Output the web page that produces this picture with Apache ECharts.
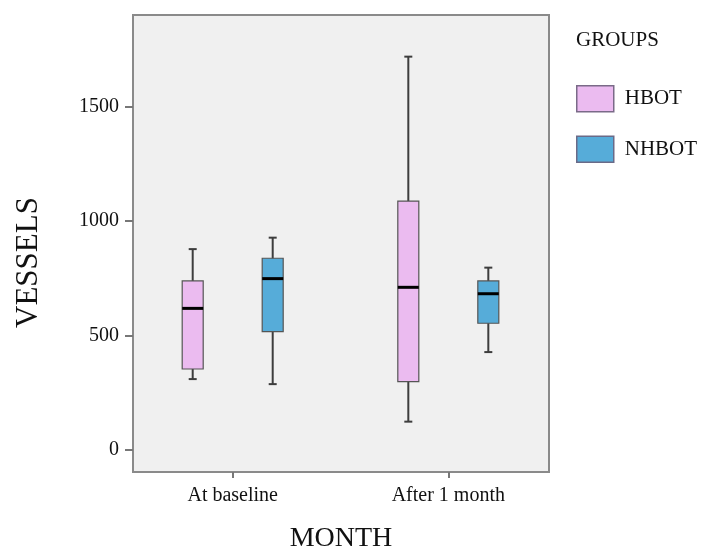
<!DOCTYPE html>
<html>
<head>
<meta charset="utf-8">
<script src="https://cdn.jsdelivr.net/npm/echarts@6/dist/echarts.min.js"></script>
<style>
  html, body { margin: 0; padding: 0; background: #fff; }
  #chart { width: 705px; height: 551px; }
</style>
</head>
<body>
<div id="chart"></div>
<script>
(function() {
  var categories = ['At baseline', 'After 1 month'];
  var groups = ['HBOT', 'NHBOT'];
  // [min, Q1, median, Q3, max] per category
  var hbot = [
    [310, 354, 619, 739, 878],
    [124, 299, 711, 1088, 1719]
  ];
  var nhbot = [
    [288, 517, 749, 838, 928],
    [428, 554, 683, 739, 797]
  ];
  var yTicks = [0, 500, 1000, 1500];

  var pink = '#ebbbf0';
  var blue = '#56acd9';
  var serif = '"Liberation Serif", "DejaVu Serif", serif';

  function toRows(arr) {
    return arr.map(function(v, i) { return [i].concat(v); });
  }

  function boxRenderer(offset) {
    return function(params, api) {
      var x = api.coord([api.value(0), 0])[0] + offset;
      var yMin = api.coord([0, api.value(1)])[1];
      var yQ1 = api.coord([0, api.value(2)])[1];
      var yMed = api.coord([0, api.value(3)])[1];
      var yQ3 = api.coord([0, api.value(4)])[1];
      var yMax = api.coord([0, api.value(5)])[1];
      var half = 10.5, cap = 4;
      var line = { stroke: '#3d3d3d', lineWidth: 2 };
      return {
        type: 'group',
        children: [
          { type: 'line', shape: { x1: x, y1: yMax, x2: x, y2: yMin }, style: line },
          { type: 'line', shape: { x1: x - cap, y1: yMax, x2: x + cap, y2: yMax }, style: line },
          { type: 'line', shape: { x1: x - cap, y1: yMin, x2: x + cap, y2: yMin }, style: line },
          {
            type: 'rect',
            shape: { x: x - half, y: yQ3, width: half * 2, height: yQ1 - yQ3 },
            style: { fill: api.visual('color'), stroke: '#555', lineWidth: 1.2 }
          },
          { type: 'line', shape: { x1: x - half, y1: yMed, x2: x + half, y2: yMed }, style: { stroke: '#000', lineWidth: 3 } }
        ]
      };
    };
  }

  var chart = echarts.init(document.getElementById('chart'), null, { renderer: 'canvas' });
  chart.setOption({
    animation: false,
    backgroundColor: '#fff',
    title: {
      text: 'GROUPS',
      left: 571,
      top: 25,
      textStyle: { fontFamily: serif, fontSize: 21, fontWeight: 'normal', color: '#111' }
    },
    legend: {
      orient: 'vertical',
      left: 576,
      top: 85,
      padding: 0,
      itemWidth: 37,
      itemHeight: 26,
      itemGap: 23,
      icon: 'rect',
      textStyle: { fontFamily: serif, fontSize: 21, color: '#111', padding: [0, 0, 0, 6] },
      data: [
        { name: groups[0], itemStyle: { color: pink, borderColor: '#7a6a88', borderWidth: 1.5 } },
        { name: groups[1], itemStyle: { color: blue, borderColor: '#6a6a88', borderWidth: 1.5 } }
      ]
    },
    grid: {
      left: 133, right: 156, top: 15, bottom: 79,
      outerBoundsMode: 'none',
      show: true,
      backgroundColor: '#f0f0f0',
      borderColor: '#8a8a8a',
      borderWidth: 2
    },
    xAxis: {
      type: 'value',
      min: -0.4624,
      max: 1.467,
      name: 'MONTH',
      nameLocation: 'middle',
      nameGap: 53,
      nameTextStyle: { fontFamily: serif, fontSize: 28, color: '#111' },
      axisLine: { show: false, onZero: false },
      splitLine: { show: false },
      axisTick: { show: true, length: 6, customValues: [0, 1], lineStyle: { color: '#777', width: 2 } },
      axisLabel: {
        customValues: [0, 1],
        margin: 14,
        fontFamily: serif, fontSize: 20, color: '#111',
        formatter: function(v) { return categories[Math.round(v)]; }
      }
    },
    yAxis: {
      type: 'value',
      min: -96,
      max: 1901,
      name: 'VESSELS',
      nameLocation: 'middle',
      nameGap: 89,
      nameTextStyle: { fontFamily: serif, fontSize: 31, color: '#111', padding: [0, 38, 0, 0] },
      axisLine: { show: false, onZero: false },
      splitLine: { show: false },
      axisTick: { show: true, length: 8, customValues: yTicks, lineStyle: { color: '#777', width: 2 } },
      axisLabel: {
        customValues: yTicks, margin: 14,
        fontFamily: serif, fontSize: 20, color: '#111',
        formatter: function(v) { return String(v); }
      }
    },
    series: [
      {
        name: groups[0],
        type: 'custom',
        itemStyle: { color: pink },
        renderItem: boxRenderer(-40),
        encode: { x: 0, y: [1, 2, 3, 4, 5] },
        data: toRows(hbot)
      },
      {
        name: groups[1],
        type: 'custom',
        itemStyle: { color: blue },
        renderItem: boxRenderer(40),
        encode: { x: 0, y: [1, 2, 3, 4, 5] },
        data: toRows(nhbot)
      }
    ]
  });
})();
</script>
</body>
</html>
